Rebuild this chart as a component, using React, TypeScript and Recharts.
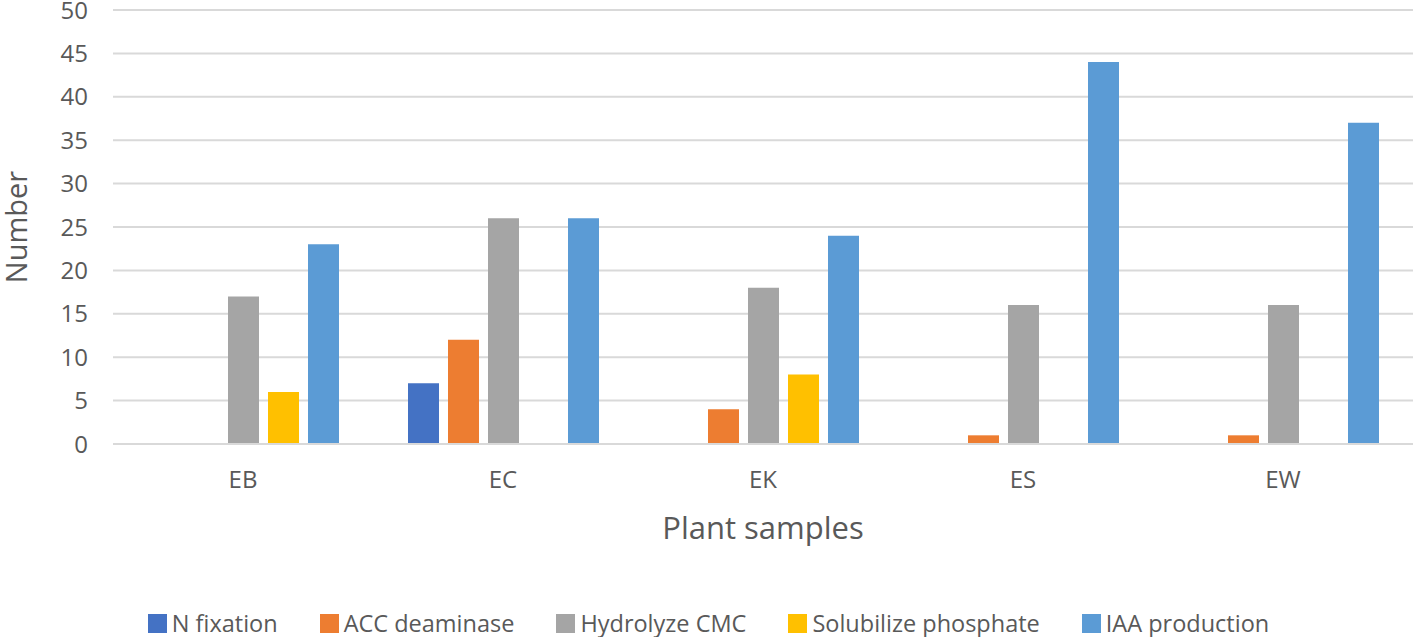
import React from 'react';
import { BarChart, Bar, XAxis, YAxis, CartesianGrid, Legend } from 'recharts';

const categories = ['EB', 'EC', 'EK', 'ES', 'EW'];
const nFixation = [0, 7, 0, 0, 0];
const accDeaminase = [0, 12, 4, 1, 1];
const hydrolyzeCMC = [17, 26, 18, 16, 16];
const solubilizePhosphate = [6, 0, 8, 0, 0];
const iaaProduction = [23, 26, 24, 44, 37];
const yTicks = [0, 5, 10, 15, 20, 25, 30, 35, 40, 45, 50];

const seriesNames = ['N fixation', 'ACC deaminase', 'Hydrolyze CMC', 'Solubilize phosphate', 'IAA production'];
const seriesKeys = ['n', 'acc', 'cmc', 'sol', 'iaa'];
const seriesColors = ['#4472C4', '#ED7D31', '#A5A5A5', '#FFC000', '#5B9BD5'];

const data = categories.map((c, i) => ({
  name: c,
  n: nFixation[i],
  acc: accDeaminase[i],
  cmc: hydrolyzeCMC[i],
  sol: solubilizePhosphate[i],
  iaa: iaaProduction[i],
}));

const FONT = '"Open Sans", "DejaVu Sans", sans-serif';
const TEXT = '#595959';

const LegendContent = () => (
  <div style={{ display: 'flex', justifyContent: 'center', alignItems: 'center', fontFamily: FONT, fontSize: 23.5, color: TEXT, width: 1417, lineHeight: '28px' }}>
    {seriesNames.map((n, i) => (
      <div key={n} style={{ display: 'flex', alignItems: 'center', marginRight: i < 4 ? 42 : 0 }}>
        <span style={{ display: 'inline-block', width: 19, height: 19, background: seriesColors[i], marginRight: 5 }} />
        <span>{n}</span>
      </div>
    ))}
  </div>
);

export default function App() {
  return (
    <div style={{ position: 'absolute', left: 0, top: 0, width: 1417, height: 637, background: '#fff' }}>
      <BarChart
        width={1417}
        height={637}
        data={data}
        margin={{ top: 10, right: 4, left: 0, bottom: 93 }}
        barSize={31}
        barGap={9}
      >
        <CartesianGrid vertical={false} stroke="#D9D9D9" strokeWidth={2} />
        <XAxis
          dataKey="name"
          height={100}
          tickLine={false}
          axisLine={{ stroke: '#D9D9D9', strokeWidth: 2 }}
          tickSize={0}
          tickMargin={27}
          tick={{ fill: TEXT, fontSize: 24, fontFamily: FONT }}
          label={{ value: 'Plant samples', position: 'insideTop', offset: 73, fill: TEXT, fontSize: 31, fontFamily: FONT }}
        />
        <YAxis
          width={113}
          domain={[0, 50]}
          ticks={yTicks}
          interval={0}
          tickLine={false}
          axisLine={false}
          tickSize={0}
          tickMargin={25}
          tick={{ fill: TEXT, fontSize: 24, fontFamily: FONT }}
          label={{ value: 'Number', angle: -90, position: 'insideLeft', offset: 17, fill: TEXT, fontSize: 29, fontFamily: FONT, style: { textAnchor: 'middle' } }}
        />
        <Legend
          verticalAlign="middle"
          align="center"
          content={<LegendContent />}
          wrapperStyle={{ top: 609, left: 0, width: 1417 }}
        />
        {seriesKeys.map((k, i) => (
          <Bar key={k} dataKey={k} name={seriesNames[i]} fill={seriesColors[i]} isAnimationActive={false} />
        ))}
      </BarChart>
    </div>
  );
}
